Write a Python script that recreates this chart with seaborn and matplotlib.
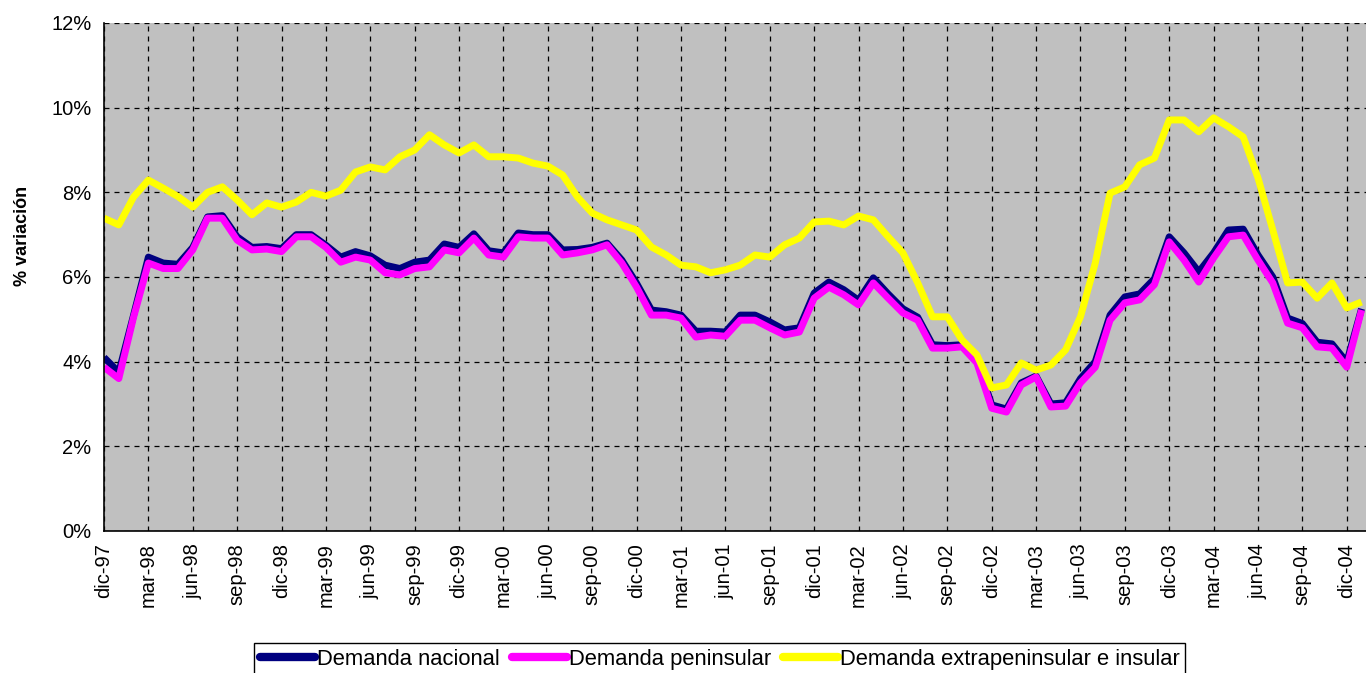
import numpy as np
import pandas as pd
import matplotlib
matplotlib.use("Agg")
import matplotlib.pyplot as plt
from matplotlib.lines import Line2D
import seaborn as sns

# ---------------- data ----------------
month_abbr = ["ene", "feb", "mar", "abr", "may", "jun",
              "jul", "ago", "sep", "oct", "nov", "dic"]
# monthly categories: dic-97 ... ene-05
months = (["dic-97"]
          + [f"{m}-{y % 100:02d}" for y in range(98, 105) for m in month_abbr]
          + ["ene-05"])

nacional = [4.10, 3.75, 5.10, 6.47, 6.33, 6.30, 6.70, 7.42, 7.45, 6.95,
            6.70, 6.72, 6.67, 7.00, 7.00, 6.75, 6.47, 6.60, 6.50, 6.28,
            6.20, 6.35, 6.40, 6.78, 6.70, 7.02, 6.62, 6.57, 7.04, 7.00,
            7.00, 6.64, 6.65, 6.70, 6.80, 6.40, 5.85, 5.22, 5.18, 5.10,
            4.72, 4.72, 4.70, 5.10, 5.10, 4.94, 4.75, 4.80, 5.62, 5.88,
            5.70, 5.45, 5.98, 5.60, 5.25, 5.05, 4.40, 4.38, 4.40, 4.05,
            2.98, 2.88, 3.50, 3.66, 3.00, 3.03, 3.60, 4.00, 5.10, 5.53,
            5.60, 5.96, 6.95, 6.57, 6.12, 6.57, 7.11, 7.13, 6.52, 6.00,
            5.03, 4.90, 4.46, 4.42, 3.99, 5.25]

peninsular = [3.87, 3.60, 5.05, 6.33, 6.20, 6.20, 6.64, 7.39, 7.39, 6.87,
              6.64, 6.66, 6.60, 6.95, 6.95, 6.70, 6.35, 6.47, 6.40, 6.10,
              6.05, 6.20, 6.24, 6.64, 6.57, 6.92, 6.52, 6.47, 6.95, 6.92,
              6.92, 6.52, 6.57, 6.64, 6.76, 6.33, 5.76, 5.10, 5.10, 5.03,
              4.58, 4.63, 4.60, 4.98, 4.98, 4.80, 4.63, 4.70, 5.50, 5.76,
              5.58, 5.34, 5.86, 5.50, 5.15, 4.98, 4.32, 4.32, 4.35, 3.97,
              2.90, 2.81, 3.45, 3.64, 2.93, 2.95, 3.50, 3.87, 4.98, 5.39,
              5.46, 5.82, 6.83, 6.40, 5.88, 6.45, 6.95, 6.99, 6.40, 5.86,
              4.91, 4.80, 4.35, 4.32, 3.87, 5.22]

extrapeninsular = [7.39, 7.23, 7.89, 8.29, 8.10, 7.90, 7.65, 8.00, 8.13, 7.82,
                   7.47, 7.75, 7.65, 7.77, 8.00, 7.91, 8.05, 8.48, 8.60, 8.53,
                   8.84, 9.00, 9.36, 9.12, 8.93, 9.12, 8.84, 8.84, 8.81, 8.69,
                   8.62, 8.41, 7.89, 7.51, 7.35, 7.23, 7.11, 6.71, 6.52, 6.28,
                   6.24, 6.10, 6.17, 6.28, 6.52, 6.47, 6.76, 6.92, 7.30, 7.32,
                   7.23, 7.44, 7.35, 6.95, 6.57, 5.86, 5.06, 5.06, 4.51, 4.16,
                   3.38, 3.45, 3.97, 3.80, 3.92, 4.28, 5.06, 6.33, 7.98, 8.13,
                   8.65, 8.81, 9.71, 9.71, 9.43, 9.76, 9.55, 9.31, 8.34, 7.11,
                   5.86, 5.88, 5.50, 5.86, 5.27, 5.41]

series_names = ["Demanda nacional", "Demanda peninsular",
                "Demanda extrapeninsular e insular"]
series_colors = ["#000080", "#FF00FF", "#FFFF00"]

tick_labels = months[::3]           # dic-97, mar-98, ... dic-04
y_ticks = [0, 2, 4, 6, 8, 10, 12]

# ---------------- long-form table ----------------
idx = np.arange(len(months))
df = pd.DataFrame({
    "pos": np.tile(idx, 3),
    "mes": months * 3,
    "valor": nacional + peninsular + extrapeninsular,
    "serie": np.repeat(series_names, len(months)),
})

# ---------------- figure ----------------
sns.set_theme(style="white")
plt.rcParams["font.family"] = ["Liberation Sans", "DejaVu Sans"]
plt.rcParams["text.color"] = "black"
plt.rcParams["axes.labelcolor"] = "black"

W, H = 1366, 673
fig = plt.figure(figsize=(W / 100, H / 100), dpi=100)
ax = fig.add_axes([104 / W, 1 - 531 / H, 1 - 104 / W, (531 - 23) / H])
ax.set_facecolor("#C0C0C0")

palette = dict(zip(series_names, series_colors))
sns.lineplot(data=df, x="pos", y="valor", hue="serie", hue_order=series_names,
             palette=palette, linewidth=5.0, sort=False, legend=False, ax=ax)
for ln in ax.lines:
    ln.set_solid_joinstyle("round")
    ln.set_solid_capstyle("butt")

# axes limits / ticks
ax.set_xlim(0, 85.3)
ax.set_ylim(0, 12)
ax.set_yticks(y_ticks)
ax.set_yticklabels([f"{v}%" for v in y_ticks])
ax.set_xticks(idx[::3])
ax.set_xticklabels(tick_labels, rotation=90, va="top", ha="center")

ax.tick_params(axis="both", which="major", direction="out", length=5,
               width=1, color="black", labelsize=14.5, labelcolor="black", pad=4)

ax.grid(True, color="black", linestyle=(0, (4, 4)), linewidth=0.9)
ax.set_axisbelow(True)

for side in ["top", "right"]:
    ax.spines[side].set_visible(False)
for side in ["left", "bottom"]:
    ax.spines[side].set_color("black")
    ax.spines[side].set_linewidth(1.2)

ax.set_xlabel("")
ax.set_ylabel("% variación", fontsize=13, fontweight="bold", color="black")
ax.yaxis.set_label_coords(-0.058, 0.58)

# legend
handles = [Line2D([0], [0], color=c, linewidth=6, solid_capstyle="round")
           for c in series_colors]
leg = fig.legend(handles, series_names, loc="upper center",
                 bbox_to_anchor=(0.527, 0.044), ncol=3, frameon=True,
                 fancybox=False, edgecolor="black", facecolor="white",
                 framealpha=1, fontsize=15.8, handlelength=2.5,
                 handletextpad=0.1, columnspacing=0.55, borderpad=0.25,
                 borderaxespad=0)
leg.get_frame().set_linewidth(1.0)
for t in leg.get_texts():
    t.set_color("black")

fig.savefig("out.png", dpi=100, facecolor="white")
